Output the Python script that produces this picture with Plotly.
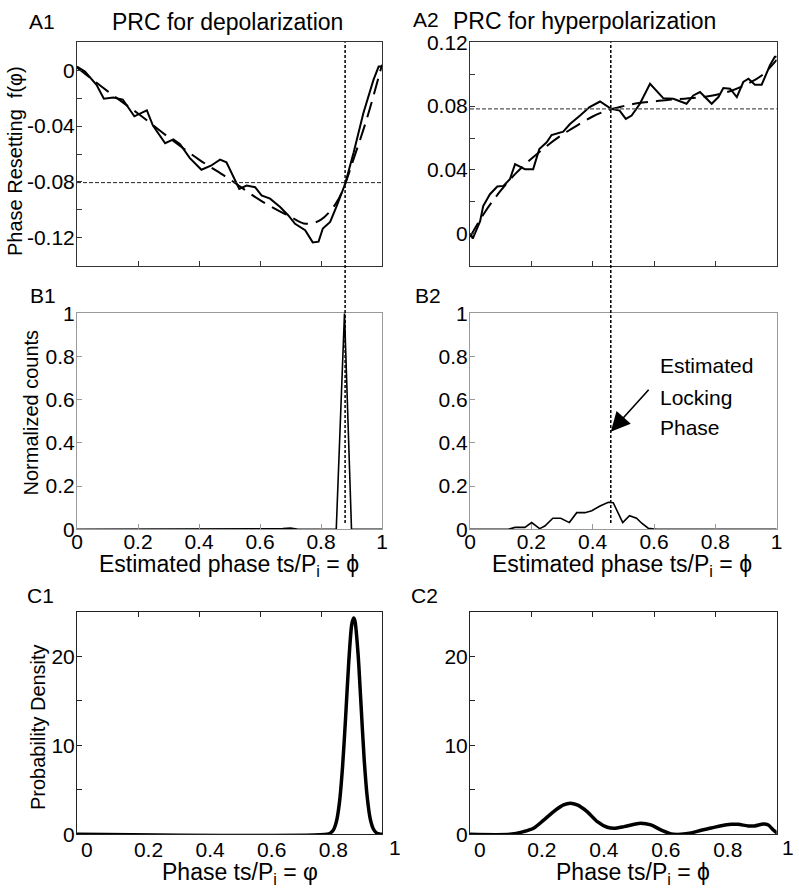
import plotly.graph_objects as go

W, H = 799, 895

# ---------------- data ----------------
# A1: PRC for depolarization (solid = measured, dashed = fit)
a1_phase = [0.0, 0.026, 0.064, 0.088, 0.119, 0.150, 0.188, 0.229, 0.249, 0.289, 0.316, 0.338,
            0.370, 0.408, 0.439, 0.469, 0.490, 0.512, 0.532, 0.556, 0.584, 0.605, 0.633, 0.666,
            0.693, 0.715, 0.748, 0.773, 0.792, 0.806, 0.830, 0.852, 0.879, 0.907, 0.939, 0.972,
            0.989, 1.0]
a1_prc = [0.0026, -0.001, -0.0104, -0.0204, -0.0195, -0.021, -0.033, -0.0287, -0.0396, -0.0523,
          -0.0495, -0.053, -0.063, -0.0713, -0.0684, -0.064, -0.066, -0.0755, -0.085, -0.0826,
          -0.0838, -0.0897, -0.092, -0.098, -0.104, -0.110, -0.1146, -0.1233, -0.1228, -0.1134,
          -0.1087, -0.0969, -0.0815, -0.059, -0.0306, -0.0069, 0.0026, 0.0026]
a1_fit_phase = [0.0, 0.1, 0.2, 0.3, 0.4, 0.5, 0.6, 0.7, 0.75, 0.8, 0.85, 0.88, 0.9, 0.95, 1.0]
a1_fit = [0.002, -0.015, -0.031, -0.048, -0.064, -0.078, -0.093, -0.105, -0.110, -0.107,
          -0.095, -0.081, -0.068, -0.035, 0.004]

# A2: PRC for hyperpolarization
a2_phase = [0.003, 0.009, 0.033, 0.043, 0.065, 0.089, 0.109, 0.130, 0.147, 0.179, 0.206, 0.226,
            0.250, 0.266, 0.304, 0.326, 0.359, 0.390, 0.424, 0.446, 0.460, 0.488, 0.508, 0.527,
            0.554, 0.587, 0.630, 0.663, 0.679, 0.706, 0.728, 0.750, 0.766, 0.788, 0.810, 0.826,
            0.848, 0.870, 0.891, 0.908, 0.929, 0.951, 0.978, 0.994, 1.0]
a2_prc = [-0.0004, -0.003, 0.0079, 0.0174, 0.0248, 0.0296, 0.030, 0.0342, 0.0437, 0.0405, 0.0405,
          0.0531, 0.0573, 0.0619, 0.064, 0.0688, 0.0741, 0.0794, 0.0829, 0.080, 0.0783, 0.0772,
          0.072, 0.0741, 0.0815, 0.094, 0.085, 0.0846, 0.0835, 0.0815, 0.0867, 0.0888, 0.0857,
          0.0815, 0.0857, 0.0913, 0.0909, 0.0857, 0.0951, 0.0972, 0.0934, 0.0934, 0.1056, 0.1109,
          0.1109]
a2_fit_phase = [0.0, 0.05, 0.1, 0.15, 0.2, 0.25, 0.3, 0.35, 0.4, 0.45, 0.5, 0.55, 0.6, 0.65,
                0.7, 0.75, 0.8, 0.85, 0.9, 0.95, 1.0]
a2_fit = [-0.002, 0.014, 0.027, 0.038, 0.047, 0.055, 0.062, 0.068, 0.0735, 0.0775, 0.080, 0.082,
          0.083, 0.084, 0.0847, 0.0855, 0.087, 0.0895, 0.0935, 0.099, 0.109]

# locking phases / crossing levels
lock1_phase, lock1_level = 0.879, -0.0805
lock2_phase, lock2_level = 0.459, 0.0783

# B1 / B2: normalized counts
b1_phase = [0.0, 0.65, 0.675, 0.70, 0.725, 0.85, 0.877, 0.90, 1.0]
b1_counts = [0.0, 0.0, 0.003, 0.006, 0.0, 0.0, 1.0, 0.0, 0.0]
b2_phase = [0.0, 0.125, 0.147, 0.179, 0.201, 0.227, 0.244, 0.270, 0.296, 0.324, 0.348, 0.375,
            0.397, 0.424, 0.451, 0.467, 0.498, 0.520, 0.543, 0.560, 0.581, 0.609, 1.0]
b2_counts = [0.0, 0.0, 0.009, 0.009, 0.031, 0.003, 0.015, 0.051, 0.051, 0.031, 0.077, 0.077,
             0.086, 0.108, 0.125, 0.123, 0.031, 0.063, 0.051, 0.028, 0.005, 0.0, 0.0]

# C1 / C2: probability density
c1_phase = [-0.032, 0.78, 0.79, 0.80, 0.81, 0.82, 0.83, 0.84, 0.85, 0.86, 0.866, 0.87, 0.88,
            0.89, 0.90, 0.91, 0.92, 0.93, 0.94, 0.95, 0.958]
c1_density = [0.0, 0.0, 0.13, 0.47, 1.42, 3.6, 7.6, 13.2, 19.3, 23.6, 24.3, 24.0, 20.4, 14.5,
              8.5, 4.2, 1.7, 0.6, 0.17, 0.04, 0.0]
c2_phase = [-0.032, 0.097, 0.141, 0.173, 0.206, 0.238, 0.270, 0.292, 0.314, 0.346, 0.379, 0.411,
            0.433, 0.465, 0.498, 0.519, 0.552, 0.584, 0.617, 0.649, 0.682, 0.714, 0.747, 0.779,
            0.812, 0.833, 0.866, 0.887, 0.915, 0.931, 0.947, 0.961]
c2_density = [0.0, 0.0, 0.3, 0.67, 1.6, 2.55, 3.3, 3.5, 3.3, 2.55, 1.42, 0.79, 0.67, 0.86, 1.12,
              1.24, 1.05, 0.49, 0.04, 0.0, 0.15, 0.45, 0.7, 0.97, 1.12, 1.12, 0.94, 0.94, 1.16,
              1.05, 0.49, 0.1]

# tick labels
a1_yticks = [-0.14, -0.12, -0.10, -0.08, -0.06, -0.04, -0.02, 0.0, 0.02]
a1_ytext = ["", "-0.12", "", "-0.08", "", "-0.04", "", "0", ""]
a2_yticks = [-0.02, 0.0, 0.02, 0.04, 0.06, 0.08, 0.10, 0.12]
a2_ytext = ["", "0", "", "0.04", "", "0.08", "", "0.12"]
b_ticks = [0, 0.2, 0.4, 0.6, 0.8, 1.0]
b_text = ["0", "0.2", "0.4", "0.6", "0.8", "1"]
c_xticks = [0, 0.2, 0.4, 0.6, 0.8]
c_xtext = ["0", "0.2", "0.4", "0.6", "0.8"]
c_yticks = [0, 5, 10, 15, 20, 25]
c_ytext = ["0", "", "10", "", "20", ""]

# ---------------- layout helpers ----------------
FONT = "Liberation Sans, Arial, Helvetica, sans-serif"


def px(x):
    return x / W


def py(y):
    return 1 - y / H


LEFT = (77, 382)
RIGHT = (470, 776.7)
ROW_A = (42.3, 265.7)
ROW_B = (313.3, 529.3)
ROW_C = (611.7, 834.3)


def dom_x(c):
    return [px(c[0]), px(c[1])]


def dom_y(r):
    return [py(r[1]), py(r[0])]


def axis(domain, rng, color, **kw):
    d = dict(domain=domain, range=rng, showgrid=False, zeroline=False, showline=True,
             linecolor=color, linewidth=1, mirror=True, ticks="inside", ticklen=5,
             tickcolor=color, tickwidth=1, automargin=False,
             tickfont=dict(family=FONT, size=21, color="black"))
    d.update(kw)
    return d


fig = go.Figure()

BLACK = "black"

# A1
fig.add_trace(go.Scatter(x=a1_phase, y=a1_prc, mode="lines", line=dict(color=BLACK, width=2),
                         xaxis="x", yaxis="y", showlegend=False))
fig.add_trace(go.Scatter(x=a1_fit_phase, y=a1_fit, mode="lines", line_shape="spline",
                         line=dict(color=BLACK, width=2, dash="16px,8px"),
                         xaxis="x", yaxis="y", showlegend=False))
# A2
fig.add_trace(go.Scatter(x=a2_phase, y=a2_prc, mode="lines", line=dict(color=BLACK, width=2),
                         xaxis="x2", yaxis="y2", showlegend=False))
fig.add_trace(go.Scatter(x=a2_fit_phase, y=a2_fit, mode="lines", line_shape="spline",
                         line=dict(color=BLACK, width=2, dash="16px,8px"),
                         xaxis="x2", yaxis="y2", showlegend=False))
# B1, B2
fig.add_trace(go.Scatter(x=b1_phase, y=b1_counts, mode="lines", line=dict(color=BLACK, width=1.6),
                         xaxis="x3", yaxis="y3", showlegend=False))
fig.add_trace(go.Scatter(x=b2_phase, y=b2_counts, mode="lines", line=dict(color=BLACK, width=1.6),
                         xaxis="x4", yaxis="y4", showlegend=False))
# C1, C2
fig.add_trace(go.Scatter(x=c1_phase, y=c1_density, mode="lines", line_shape="spline",
                         line=dict(color=BLACK, width=3.5, smoothing=0.8),
                         xaxis="x5", yaxis="y5", showlegend=False))
fig.add_trace(go.Scatter(x=c2_phase, y=c2_density, mode="lines", line_shape="spline",
                         line=dict(color=BLACK, width=3.5, smoothing=0.8),
                         xaxis="x6", yaxis="y6", showlegend=False))
# empty traces registering the top tick axes of C panels
fig.add_trace(go.Scatter(x=[], y=[], xaxis="x7", yaxis="y5", showlegend=False, hoverinfo="skip"))
fig.add_trace(go.Scatter(x=[], y=[], xaxis="x8", yaxis="y6", showlegend=False, hoverinfo="skip"))

ca = "#333333"
cb = "#9a9a9a"
cc = "#222222"

XSTAND = -7
YSTAND = -3

fig.update_layout(
    width=W, height=H, autosize=False,
    margin=dict(l=0, r=0, t=0, b=0, pad=0),
    paper_bgcolor="white", plot_bgcolor="white",
    font=dict(family=FONT, color="black"),
    xaxis=axis(dom_x(LEFT), [0, 1], ca, anchor="y", tickvals=[0.2, 0.4, 0.6, 0.8],
               showticklabels=False),
    yaxis=axis(dom_y(ROW_A), [-0.14, 0.02], ca, anchor="x", tickvals=a1_yticks,
               ticktext=a1_ytext, ticklabelstandoff=YSTAND),
    xaxis2=axis(dom_x(RIGHT), [0, 1], ca, anchor="y2", tickvals=[0.2, 0.4, 0.6, 0.8],
                showticklabels=False),
    yaxis2=axis(dom_y(ROW_A), [-0.02, 0.12], ca, anchor="x2", tickvals=a2_yticks,
                ticktext=a2_ytext, ticklabelstandoff=YSTAND),
    xaxis3=axis(dom_x(LEFT), [0, 1], cb, anchor="y3", tickvals=b_ticks, ticktext=b_text,
                ticklabelstandoff=XSTAND),
    yaxis3=axis(dom_y(ROW_B), [0, 1], cb, anchor="x3", tickvals=b_ticks, ticktext=b_text,
                ticklabelstandoff=YSTAND),
    xaxis4=axis(dom_x(RIGHT), [0, 1], cb, anchor="y4", tickvals=b_ticks, ticktext=b_text,
                ticklabelstandoff=XSTAND),
    yaxis4=axis(dom_y(ROW_B), [0, 1], cb, anchor="x4", tickvals=b_ticks, ticktext=b_text,
                ticklabelstandoff=YSTAND),
    xaxis5=axis(dom_x(LEFT), [-0.032, 0.958], cc, anchor="y5", tickvals=c_xticks,
                ticktext=c_xtext, ticks="", ticklabelstandoff=XSTAND + 3),
    yaxis5=axis(dom_y(ROW_C), [0, 25], cc, anchor="x5", tickvals=c_yticks, ticktext=c_ytext,
                ticklabelstandoff=YSTAND),
    xaxis6=axis(dom_x(RIGHT), [-0.032, 0.958], cc, anchor="y6", tickvals=c_xticks,
                ticktext=c_xtext, ticks="", ticklabelstandoff=XSTAND + 3),
    yaxis6=axis(dom_y(ROW_C), [0, 25], cc, anchor="x6", tickvals=c_yticks, ticktext=c_ytext,
                ticklabelstandoff=YSTAND),
    xaxis7=dict(domain=dom_x(LEFT), range=[0, 1], overlaying="x5", anchor="y5", side="top",
                showgrid=False, zeroline=False, showline=False, ticks="inside", ticklen=5,
                tickcolor=cc, tickvals=[0.2, 0.4, 0.6, 0.8], showticklabels=False,
                automargin=False),
    xaxis8=dict(domain=dom_x(RIGHT), range=[0, 1], overlaying="x6", anchor="y6", side="top",
                showgrid=False, zeroline=False, showline=False, ticks="inside", ticklen=5,
                tickcolor=cc, tickvals=[0.2, 0.4, 0.6, 0.8], showticklabels=False,
                automargin=False),
)

# ---------------- guide lines ----------------
shapes = [
    # vertical locking-phase lines spanning A and B rows
    dict(type="line", xref="x", yref="paper", x0=lock1_phase, x1=lock1_phase,
         y0=py(523), y1=py(ROW_A[0]), line=dict(color=BLACK, width=1.5, dash="3px,2px")),
    dict(type="line", xref="x2", yref="paper", x0=lock2_phase, x1=lock2_phase,
         y0=py(523), y1=py(ROW_A[0]), line=dict(color=BLACK, width=1.5, dash="3px,2px")),
    # horizontal levels
    dict(type="line", xref="paper", yref="y", x0=px(LEFT[0]), x1=px(LEFT[1]),
         y0=lock1_level, y1=lock1_level, line=dict(color="#222222", width=1, dash="4px,2px")),
    dict(type="line", xref="paper", yref="y2", x0=px(RIGHT[0]), x1=px(RIGHT[1]),
         y0=lock2_level, y1=lock2_level, line=dict(color="#555555", width=1.2, dash="4px,2px")),
]
fig.update_layout(shapes=shapes)

# ---------------- text ----------------
ann = []


def txt(x, y, s, size=20, xanchor="center", yanchor="middle", angle=0):
    ann.append(dict(x=px(x), y=py(y), xref="paper", yref="paper", text=s, showarrow=False,
                    xanchor=xanchor, yanchor=yanchor, textangle=angle,
                    font=dict(family=FONT, size=size, color="black")))


# panel labels
txt(41.5, 21, "A1", 21)
txt(426.5, 20, "A2", 21)
txt(43.3, 295.5, "B1", 21)
txt(428, 295.5, "B2", 21)
txt(40, 595, "C1", 21)
txt(424, 595, "C2", 21)
# titles
txt(227.5, 22, "PRC for depolarization", 23)
txt(584, 21, "PRC for hyperpolarization", 23)
# y titles
txt(15, 161, "Phase Resetting  f(φ)", 20, angle=-90)
txt(30, 412.5, "Normalized counts", 20, angle=-90)
txt(38, 727, "Probability Density", 20, angle=-90)
# x titles
txt(229, 565, "Estimated phase ts/P<sub>i</sub> = ϕ", 23)
txt(621.7, 565, "Estimated phase ts/P<sub>i</sub> = ϕ", 23)
txt(240, 873, "Phase ts/P<sub>i</sub> = φ", 23)
txt(632.5, 873, "Phase ts/P<sub>i</sub> = ϕ", 23)
# "1" tick labels beyond the C axes
txt(395, 847, "1", 21)
txt(788, 847, "1", 21)
# locking phase note
txt(657.7, 365.5, "Estimated", 21, xanchor="left")
txt(657.7, 397, "Locking", 21, xanchor="left")
txt(657.7, 427.5, "Phase", 21, xanchor="left")

# arrow
ann.append(dict(x=lock2_phase, y=0.452, xref="x4", yref="y4", ax=0.587, ay=0.653,
                axref="x4", ayref="y4", text="", showarrow=True, arrowhead=2, arrowsize=2.4,
                arrowwidth=1.6, arrowcolor=BLACK))

fig.update_layout(annotations=ann)

fig.write_html("out.html",
               config={"displayModeBar": False},
               post_script="document.body.style.margin='0px';"
                           "document.body.style.overflow='hidden';")
